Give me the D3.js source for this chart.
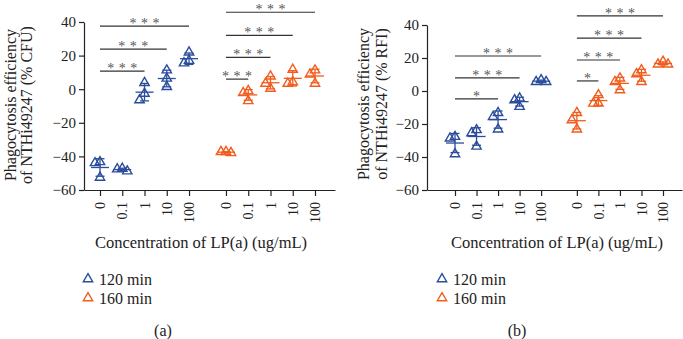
<!DOCTYPE html>
<html>
<head>
<meta charset="utf-8">
<script src="https://cdn.jsdelivr.net/npm/d3@7"></script>
<style>
  body { margin: 0; background: #fff; }
  text { font-family: "Liberation Serif", "Times New Roman", serif; }
</style>
</head>
<body>
<svg id="chart" width="683" height="339"></svg>
<script>
// concentrations of LP(a), ug/mL
var concLabels = ["0", "0.1", "1", "10", "100"];
var seriesNames = ["120 min", "160 min"];
var seriesColors = ["#2b4d9b", "#f25c1e"];

// panel (a): % CFU, three replicates per concentration
var cfu120 = [[-43.3, -43.9, -52.6], [-47.6, -48.8, -47.2], [3.8, -2.6, -6.5], [11.3, 6.4, 1.4], [22, 15.5, 17]];
var cfu160 = [[-37.3, -37.9, -37.3], [-1.0, -2.2, -7.0], [7.7, 3.4, 0.4], [11.7, 4.3, 3.4], [11.3, 8.9, 3.4]];
// panel (b): % RFI
var rfi120 = [[-27.7, -28.7, -38.2], [-23.6, -25.5, -33.6], [-13.2, -15.6, -23.2], [-4.4, -5.5, -9.5], [6.7, 5.6, 5.6]];
var rfi160 = [[-13.2, -17.6, -23.2], [-2.4, -7.5, -7.5], [7.7, 5.6, 0.6], [12.7, 10.3, 5.6], [17.8, 16.2, 16.2]];

var yTicks = [-60, -40, -20, 0, 20, 40];

// significance brackets: series, compared concentration, height (data units), label
var sigCfu = [
  {s: 0, to: 2, y: 10.7, t: "***"}, {s: 0, to: 3, y: 23.8, t: "***"}, {s: 0, to: 4, y: 37.5, t: "***"},
  {s: 1, to: 1, y: 6, t: "***"}, {s: 1, to: 2, y: 19, t: "***"}, {s: 1, to: 3, y: 32, t: "***"}, {s: 1, to: 4, y: 45.8, t: "***"}
];
var sigRfi = [
  {s: 0, to: 2, y: -4.8, t: "*"}, {s: 0, to: 3, y: 7.9, t: "***"}, {s: 0, to: 4, y: 21.2, t: "***"},
  {s: 1, to: 1, y: 6.1, t: "*"}, {s: 1, to: 2, y: 18.8, t: "***"}, {s: 1, to: 3, y: 32.1, t: "***"}, {s: 1, to: 4, y: 45.5, t: "***"}
];

var svg = d3.select("#chart");
var GAP = 5.66; // index where second series starts

function panel(cfg, series, sig) {
  var spacing = (cfg.last - cfg.first) / (GAP + 4);
  var x = d3.scaleLinear()
    .domain([(cfg.x0 - cfg.first) / spacing, (cfg.x1 - cfg.first) / spacing])
    .range([cfg.x0, cfg.x1]);
  var y = d3.scaleLinear().domain([-60, 40]).range([cfg.yBot, cfg.yTop]);
  var g = svg.append("g");

  var tickIdx = [], tickLab = {};
  seriesNames.forEach(function(s, si) {
    concLabels.forEach(function(c, ci) {
      var k = si * GAP + ci;
      tickIdx.push(k);
      tickLab[k] = c;
    });
  });

  var yAxis = g.append("g")
    .attr("transform", "translate(" + cfg.x0 + ",0)")
    .call(d3.axisLeft(y).tickValues(yTicks).tickSize(5).tickSizeOuter(0).tickPadding(3));
  yAxis.selectAll("text").style("font-size", "15px").attr("fill", "#222");
  yAxis.selectAll("line,path").attr("stroke", "#222").attr("stroke-width", 1.2);

  var xAxis = g.append("g")
    .attr("transform", "translate(0," + cfg.yBot + ")")
    .call(d3.axisBottom(x).tickValues(tickIdx).tickSize(6).tickSizeOuter(0)
      .tickFormat(function(d) { return tickLab[d]; }));
  xAxis.selectAll("line,path").attr("stroke", "#222").attr("stroke-width", 1.2);
  xAxis.selectAll("text")
    .style("font-size", "14px").attr("fill", "#222")
    .attr("transform", "rotate(-90)")
    .attr("text-anchor", "end")
    .attr("x", -12).attr("y", 0).attr("dy", "0.33em");

  // y title (two lines)
  [cfg.title1, cfg.title2].forEach(function(t, i) {
    g.append("text")
      .attr("transform", "translate(" + cfg.tx[i] + "," + cfg.ty + ") rotate(-90)")
      .attr("text-anchor", "middle")
      .style("font-size", "16px").attr("fill", "#222")
      .text(t);
  });

  g.append("text")
    .attr("x", cfg.xTitleX).attr("y", 248)
    .attr("text-anchor", "middle")
    .style("font-size", "16.5px").attr("fill", "#222")
    .text("Concentration of LP(a) (ug/mL)");

  var tri = d3.symbol().type(d3.symbolTriangle).size(38);

  series.forEach(function(groups, si) {
    var col = seriesColors[si];
    groups.forEach(function(vals, ci) {
      var cx = x(si * GAP + ci);
      var m = d3.mean(vals), sd = d3.deviation(vals);
      // simple dodge so replicates do not sit on top of each other
      var placed = [];
      vals.slice().sort(function(a, b) { return b - a; }).forEach(function(v) {
        var offs = [0, -5, 5, -10, 10], o = 0;
        for (var k = 0; k < offs.length; k++) {
          var ok = placed.every(function(p) {
            return Math.abs(y(p.v) - y(v)) >= 8 || Math.abs(p.o - offs[k]) >= 5;
          });
          if (ok) { o = offs[k]; break; }
        }
        placed.push({v: v, o: o});
      });
      g.selectAll(null).data(placed).enter().append("path")
        .attr("d", tri)
        .attr("transform", function(p) { return "translate(" + (cx + p.o) + "," + y(p.v) + ")"; })
        .attr("fill", "none").attr("stroke", col).attr("stroke-width", 1.4);
      // mean and SD
      g.append("line").attr("x1", cx - 9).attr("x2", cx + 9).attr("y1", y(m)).attr("y2", y(m))
        .attr("stroke", col).attr("stroke-width", 1.3);
      g.append("line").attr("x1", cx).attr("x2", cx).attr("y1", y(m - sd)).attr("y2", y(m + sd))
        .attr("stroke", col).attr("stroke-width", 1.3);
      [m - sd, m + sd].forEach(function(e) {
        g.append("line").attr("x1", cx - 4.5).attr("x2", cx + 4.5).attr("y1", y(e)).attr("y2", y(e))
          .attr("stroke", col).attr("stroke-width", 1.3);
      });
    });
  });

  sig.forEach(function(d) {
    var xa = x(d.s * GAP), xb = x(d.s * GAP + d.to);
    g.append("line").attr("x1", xa).attr("x2", xb).attr("y1", y(d.y)).attr("y2", y(d.y))
      .attr("stroke", "#333").attr("stroke-width", 1.2);
    g.append("text")
      .attr("x", (xa + xb) / 2).attr("y", y(d.y) + 2).attr("dx", 2.2)
      .attr("text-anchor", "middle")
      .style("font-size", "14px").style("letter-spacing", "4.5px").attr("fill", "#555")
      .text(d.t);
  });

  // legend
  seriesNames.forEach(function(s, si) {
    var ly = 279 + si * 19;
    g.append("path").attr("d", tri)
      .attr("transform", "translate(" + cfg.legX + "," + ly + ")")
      .attr("fill", "none").attr("stroke", seriesColors[si]).attr("stroke-width", 1.4);
    g.append("text").attr("x", cfg.legX + 11).attr("y", ly + 5.5)
      .style("font-size", "16px").attr("fill", "#222").text(s);
  });

  g.append("text").attr("x", cfg.capX).attr("y", 336)
    .attr("text-anchor", "middle").style("font-size", "16px").attr("fill", "#222")
    .text(cfg.cap);
}

panel({x0: 84, x1: 335, first: 100, last: 315, yTop: 22, yBot: 190,
       tx: [16, 32], ty: 105, title1: "Phagocytosis efficiency", title2: "of NTHi49247 (% CFU)",
       xTitleX: 201, legX: 88, capX: 163, cap: "(a)"},
      [cfu120, cfu160], sigCfu);
panel({x0: 427, x1: 682, first: 455, last: 663, yTop: 25, yBot: 190,
       tx: [369, 387], ty: 104, title1: "Phagocytosis efficiency", title2: "of NTHi49247 (% RFI)",
       xTitleX: 557, legX: 442, capX: 517, cap: "(b)"},
      [rfi120, rfi160], sigRfi);
</script>
</body>
</html>
